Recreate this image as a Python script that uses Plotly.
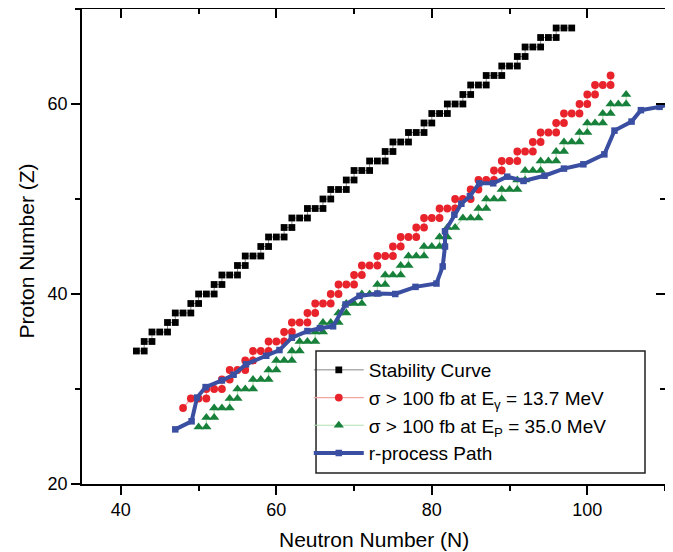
import plotly.graph_objects as go

# ---------------- data ----------------
# Stability curve: one (N, Z) point per mass number
stab_N = [42, 43, 43, 44, 44, 45, 46, 46, 47, 47, 48, 49, 49, 50, 50, 51, 52, 52, 53,
          53, 54, 55, 55, 56, 56, 57, 58, 58, 59, 59, 60, 61, 61, 62, 62, 63, 64,
          64, 65, 66, 66, 67, 67, 68, 69, 69, 70, 70, 71, 72, 72, 73, 74, 74, 75,
          75, 76, 77, 77, 78, 79, 79, 80, 80, 81, 82, 82, 83, 84, 84, 85, 85, 86, 87,
          87, 88, 89, 89, 90, 91, 91, 92, 92, 93, 94, 94, 95, 96, 96, 97, 98]
stab_Z = [34, 34, 35, 35, 36, 36, 36, 37, 37, 38, 38, 38, 39, 39, 40, 40, 40, 41, 41,
          42, 42, 42, 43, 43, 44, 44, 44, 45, 45, 46, 46, 46, 47, 47, 48, 48, 48,
          49, 49, 49, 50, 50, 51, 51, 51, 52, 52, 53, 53, 53, 54, 54, 54, 55, 55,
          56, 56, 56, 57, 57, 57, 58, 58, 59, 59, 59, 60, 60, 60, 61, 61, 62, 62, 62,
          63, 63, 63, 64, 64, 64, 65, 65, 66, 66, 66, 67, 67, 67, 68, 68, 68]

# sigma > 100 fb at E_gamma = 13.7 MeV
gam_N = [48, 49, 50, 51, 51, 52, 53, 53, 54, 54, 55, 56, 56, 57, 57, 58, 59, 59, 60, 61,
         61, 62, 62, 63, 64, 64, 65, 65, 66, 67, 67, 68, 68, 69, 70, 70, 71, 71, 72, 73,
         73, 74, 75, 75, 76, 76, 77, 78, 78, 79, 79, 80, 81, 81, 82, 83, 83, 84, 85,
         85, 86, 86, 87, 88, 88, 89, 89, 90, 91, 91, 92, 93, 93, 94, 94, 95, 96,
         96, 97, 97, 98, 99, 99, 100, 100, 101, 101, 102, 103, 103]
gam_Z = [28, 29, 29, 29, 30, 30, 30, 31, 31, 32, 32, 32, 33, 33, 34, 34, 34, 35, 35, 35,
         36, 36, 37, 37, 37, 38, 38, 39, 39, 39, 40, 40, 41, 41, 41, 42, 42, 43, 43, 43,
         44, 44, 44, 45, 45, 46, 46, 46, 47, 47, 48, 48, 48, 49, 49, 49, 50, 50, 50,
         51, 51, 52, 52, 52, 53, 53, 54, 54, 54, 55, 55, 55, 56, 56, 57, 57, 57,
         58, 58, 59, 59, 59, 60, 60, 61, 61, 62, 62, 62, 63]

# sigma > 100 fb at E_P = 35.0 MeV
pro_N = [50, 51, 51, 52, 52, 53, 54, 54, 55, 55, 56, 57, 57, 58, 59, 59, 60, 60, 61, 62,
         62, 63, 63, 64, 65, 65, 66, 66, 67, 68, 68, 69, 69, 70, 71, 71, 72, 73,
         73, 74, 74, 75, 76, 76, 77, 77, 78, 79, 79, 80, 81, 81, 82, 82, 83,
         84, 85, 86, 86, 87, 87, 88, 89, 89, 90, 91, 91, 92, 92, 93, 94, 94, 95, 96,
         96, 97, 97, 98, 99, 99, 100, 100, 101, 102, 102, 103, 103, 104, 105, 105]
pro_Z = [26, 26, 27, 27, 28, 28, 28, 29, 29, 30, 30, 30, 31, 31, 31, 32, 32, 33, 33, 33,
         34, 34, 35, 35, 35, 36, 36, 37, 37, 37, 38, 38, 39, 39, 39, 40, 40, 40,
         41, 41, 42, 42, 42, 43, 43, 44, 44, 44, 45, 45, 45, 46, 46, 47, 47,
         48, 48, 48, 49, 49, 50, 50, 50, 51, 51, 51, 52, 52, 53, 53, 53, 54, 54, 54,
         55, 55, 56, 56, 56, 57, 57, 58, 58, 58, 59, 59, 60, 60, 60, 61]

# r-process path
rp_N = [47.0, 49.1, 49.8, 50.9, 53.0, 54.5, 56.1, 58.7, 60.4, 62.0, 64.0, 65.6, 67.3,
        68.9, 70.7, 73.0, 75.3, 77.9, 80.6, 81.4, 81.7, 81.7, 82.9, 83.8, 84.9, 86.1,
        87.9, 89.7, 91.8, 94.5, 97.0, 99.5, 102.2, 103.5, 105.7, 106.9, 109.3, 110.5]
rp_Z = [25.75, 26.6, 29.1, 30.2, 30.9, 31.5, 32.6, 33.5, 34.1, 35.4, 36.1, 36.4, 36.6,
        38.9, 39.8, 40.05, 40.0, 40.75, 41.1, 42.9, 45.0, 46.6, 48.35, 49.5, 50.3, 51.65,
        51.65, 52.35, 51.9, 52.45, 53.2, 53.65, 54.7, 57.2, 58.15, 59.35, 59.7, 59.95]

names = ["Stability Curve",
         "σ > 100 fb at E<sub>γ</sub> = 13.7 MeV",
         "σ > 100 fb at E<sub>P</sub> = 35.0 MeV",
         "r-process Path"]

x_title = "Neutron Number (N)"
y_title = "Proton Number (Z)"

x_range = [35, 110]
y_range = [20, 70]

FONT = "Liberation Sans, Arial, sans-serif"

fig = go.Figure()
fig.add_trace(go.Scatter(x=stab_N, y=stab_Z, name=names[0], mode="lines+markers",
                         line=dict(color="#333333", width=0.6),
                         marker=dict(symbol="square", size=6.8, color="black")))
fig.add_trace(go.Scatter(x=gam_N, y=gam_Z, name=names[1], mode="lines+markers",
                         line=dict(color="#f4a3a3", width=1.2),
                         marker=dict(symbol="circle", size=7.8, color="#e8232b")))
fig.add_trace(go.Scatter(x=pro_N, y=pro_Z, name=names[2], mode="lines+markers",
                         line=dict(color="#b3dfb0", width=1.2),
                         marker=dict(symbol="triangle-up", size=9, color="#17803a")))
fig.add_trace(go.Scatter(x=rp_N, y=rp_Z, name=names[3], mode="lines+markers",
                         line=dict(color="#3a4ea2", width=4),
                         marker=dict(symbol="square", size=6.5, color="#3a4ea2")))
# helper trace so the mirrored (top/right) axes are drawn
fig.add_trace(go.Scatter(x=[None], y=[None], xaxis="x2", yaxis="y2",
                         showlegend=False, hoverinfo="skip"))

axis_common = dict(showline=True, linecolor="black", linewidth=1.5,
                   showgrid=False, zeroline=False, tickcolor="black",
                   tickwidth=1.5, automargin=False)

fig.update_layout(
    width=665, height=544,
    margin=dict(l=74, r=8, t=1, b=68),
    paper_bgcolor="white", plot_bgcolor="white",
    font=dict(family=FONT, color="black"),
    xaxis=dict(range=x_range, ticks="outside", ticklen=9, tick0=40, dtick=20,
               minor=dict(ticks="outside", ticklen=5, tick0=40, dtick=10,
                          tickcolor="black", tickwidth=1.5),
               tickfont=dict(size=18, family=FONT),
               **axis_common),
    yaxis=dict(range=y_range, ticks="outside", ticklen=9, tick0=20, dtick=20,
               minor=dict(ticks="outside", ticklen=5, tick0=20, dtick=10,
                          tickcolor="black", tickwidth=1.5),
               tickfont=dict(size=18, family=FONT),
               **axis_common),
    xaxis2=dict(range=x_range, overlaying="x", side="top", anchor="y2",
                ticks="inside", ticklen=9, tick0=40, dtick=20, showticklabels=False,
                minor=dict(ticks="inside", ticklen=5, tick0=40, dtick=10,
                           tickcolor="black", tickwidth=1.5),
                **axis_common),
    yaxis2=dict(range=y_range, overlaying="y", side="right", anchor="x2",
                ticks="inside", ticklen=9, tick0=20, dtick=20, showticklabels=False,
                minor=dict(ticks="inside", ticklen=5, tick0=20, dtick=10,
                           tickcolor="black", tickwidth=1.5),
                **axis_common),
    legend=dict(x=0.389, y=0.28, xanchor="left", yanchor="top",
                bgcolor="rgba(0,0,0,0)", borderwidth=0, itemwidth=50,
                font=dict(size=19, family=FONT, color="black"),
                tracegroupgap=0),
    showlegend=True,
    annotations=[
        dict(text=x_title, xref="paper", yref="paper", x=0.5, y=0,
             xanchor="center", yanchor="middle", yshift=-55, showarrow=False,
             font=dict(size=21, family=FONT, color="black")),
        dict(text=y_title, xref="paper", yref="paper", x=0, y=0.5,
             xanchor="center", yanchor="middle", xshift=-56, yshift=-5,
             textangle=-90, showarrow=False,
             font=dict(size=21, family=FONT, color="black")),
    ],
    shapes=[
        dict(type="rect", xref="paper", yref="paper",
             x0=0.4014, x1=0.9657, y0=0.0232, y1=0.28,
             line=dict(color="#222222", width=1.5), layer="above"),
    ],
)

fig.write_html("out.html")
